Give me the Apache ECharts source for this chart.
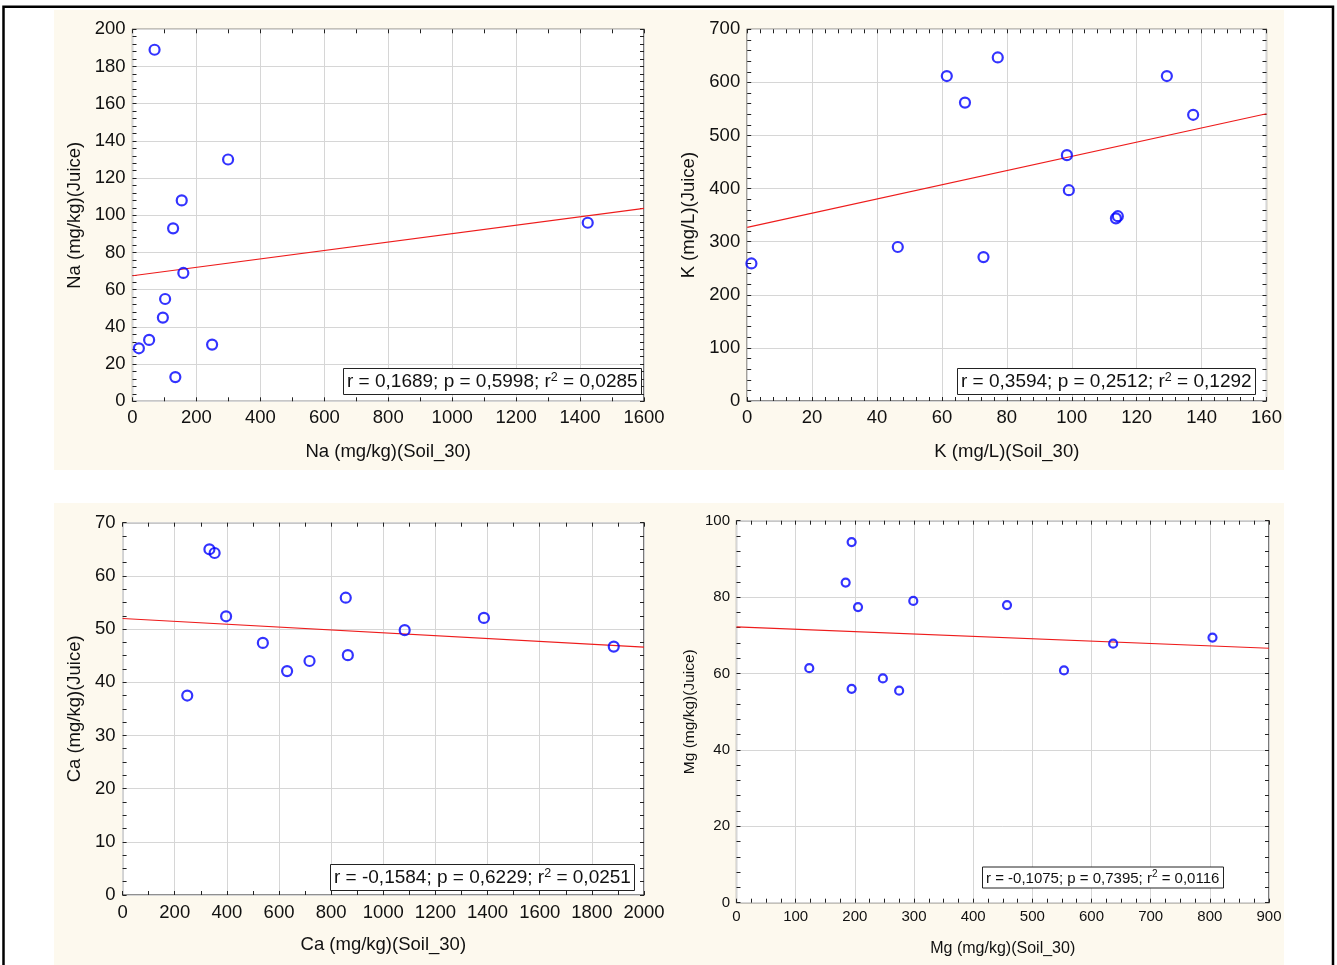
<!DOCTYPE html>
<html>
<head>
<meta charset="utf-8">
<title>Soil vs Juice correlations</title>
<script src="https://cdn.jsdelivr.net/npm/echarts@6/dist/echarts.min.js"></script>
<style>
  html, body { margin: 0; padding: 0; background: #fff; }
  #chart { width: 1337px; height: 965px; }
</style>
</head>
<body>
<div id="chart"></div>
<script>
// Sodium
const naSoil  = [69, 299, 154, 127, 159, 102, 95, 52, 20, 249, 134, 1424];
const naJuice = [189, 130, 108, 93, 69, 55, 45, 33, 28.5, 30.5, 13, 96];
const naFit   = [[0, 67.5], [1600, 103.7]];
const naStats = ['0,1689', '0,5998', '0,0285'];

// Potassium
const kSoil  = [1.3, 46.4, 61.5, 67.1, 77.2, 72.8, 98.5, 99.1, 113.6, 114.2, 129.3, 137.4];
const kJuice = [259, 290, 612, 562, 647, 271, 463, 397, 344, 348, 612, 539];
const kFit   = [[0, 327], [160, 541]];
const kStats = ['0,3594', '0,2512', '0,1292'];

// Calcium
const caSoil  = [333, 353, 397, 248, 538, 631, 717, 856, 864, 1082, 1386, 1884];
const caJuice = [65.0, 64.3, 52.4, 37.5, 47.4, 42.1, 44.0, 55.9, 45.1, 49.8, 52.1, 46.7];
const caFit   = [[0, 52.0], [2000, 46.6]];
const caStats = ['-0,1584', '0,6229', '0,0251'];

// Magnesium
const mgSoil  = [123, 184.5, 194.6, 205.4, 194.6, 247.4, 274.9, 298.8, 457.2, 553.5, 636.6, 804.5];
const mgJuice = [61.4, 83.8, 94.4, 77.4, 56.0, 58.7, 55.5, 79.0, 77.9, 60.8, 67.8, 69.4];
const mgFit   = [[0, 72.2], [900, 66.6]];
const mgStats = ['-0,1075', '0,7395', '0,0116'];

// Axis ranges: [min, max, interval, minor splits]
const naXRange = [0, 1600, 200, 2], naYRange = [0, 200, 20, 5];
const kXRange  = [0, 160, 20, 5],   kYRange  = [0, 700, 100, 5];
const caXRange = [0, 2000, 200, 2], caYRange = [0, 70, 10, 4];
const mgXRange = [0, 900, 100, 4],  mgYRange = [0, 100, 20, 5];

const FONT = '"Liberation Sans", Arial, sans-serif';
const FRAME = '#222';

const panels = [
  { xs: naSoil, ys: naJuice, fit: naFit, stats: naStats, xr: naXRange, yr: naYRange,
    xName: 'Na (mg/kg)(Soil_30)', yName: 'Na (mg/kg)(Juice)',
    grid: { left: 132.5, top: 29.3, width: 511.5, height: 372 },
    fs: 18.5, xNameFs: 18.5, yNameFs: 18.5, xGap: 41, yGap: 48, xMargin: 7, yMargin: 7,
    sym: 10, box: { left: 343, top: 368, fs: 19, lh: 22, sup: 12.5, pad: [3, 4, 3, 4] } },
  { xs: kSoil, ys: kJuice, fit: kFit, stats: kStats, xr: kXRange, yr: kYRange,
    xName: 'K (mg/L)(Soil_30)', yName: 'K (mg/L)(Juice)',
    grid: { left: 747.2, top: 29.3, width: 519.3, height: 371.7 },
    fs: 18.5, xNameFs: 18.5, yNameFs: 18.5, xGap: 41, yGap: 48.5, xMargin: 7, yMargin: 7,
    sym: 10, box: { left: 957, top: 368, fs: 19, lh: 22, sup: 12.5, pad: [3, 4, 3, 4] } },
  { xs: caSoil, ys: caJuice, fit: caFit, stats: caStats, xr: caXRange, yr: caYRange,
    xName: 'Ca (mg/kg)(Soil_30)', yName: 'Ca (mg/kg)(Juice)',
    grid: { left: 122.6, top: 522.7, width: 521.4, height: 372.3 },
    fs: 18.5, xNameFs: 18.5, yNameFs: 18.5, xGap: 40, yGap: 38.5, xMargin: 8, yMargin: 7,
    sym: 10, box: { left: 330, top: 864, fs: 19, lh: 22, sup: 12.5, pad: [3, 4, 3, 4] } },
  { xs: mgSoil, ys: mgJuice, fit: mgFit, stats: mgStats, xr: mgXRange, yr: mgYRange,
    xName: 'Mg (mg/kg)(Soil_30)', yName: 'Mg (mg/kg)(Juice)',
    grid: { left: 736.5, top: 520.7, width: 532.5, height: 382 },
    fs: 15, xNameFs: 16, yNameFs: 15.5, xGap: 38, yGap: 39, xMargin: 7, yMargin: 6.5,
    sym: 8, box: { left: 982, top: 867, fs: 15, lh: 18, sup: 10, pad: [2.5, 4, 2.5, 4] } }
];

const grids = [], xAxes = [], yAxes = [], series = [], titles = [];

function tickStyle(splits) {
  return {
    axisLine: { show: false, onZero: false },
    axisTick: { show: true, inside: true, length: 4, lineStyle: { color: FRAME, width: 1 } },
    minorTick: { show: true, splitNumber: splits, length: 4, lineStyle: { color: FRAME, width: 1 } }
  };
}

const plain = (v) => String(v);

panels.forEach((p, i) => {
  grids.push(Object.assign({ show: true, backgroundColor: '#fff', borderColor: FRAME, borderWidth: 1.2, containLabel: false }, p.grid));

  const labelStyle = (margin) => ({ show: true, margin: margin, fontSize: p.fs, color: '#111', fontFamily: FONT, formatter: plain });

  // bottom / left axes carry labels, names and grid lines
  xAxes.push(Object.assign({
    gridIndex: i, type: 'value', position: 'bottom',
    min: p.xr[0], max: p.xr[1], interval: p.xr[2],
    name: p.xName, nameLocation: 'middle', nameGap: p.xGap,
    nameTextStyle: { fontSize: p.xNameFs, color: '#111', fontFamily: FONT },
    axisLabel: labelStyle(p.xMargin),
    splitLine: { show: true, lineStyle: { color: '#d6d6d6', width: 1 } }
  }, tickStyle(p.xr[3])));
  yAxes.push(Object.assign({
    gridIndex: i, type: 'value', position: 'left',
    min: p.yr[0], max: p.yr[1], interval: p.yr[2],
    name: p.yName, nameLocation: 'middle', nameGap: p.yGap,
    nameTextStyle: { fontSize: p.yNameFs, color: '#111', fontFamily: FONT },
    axisLabel: labelStyle(p.yMargin),
    splitLine: { show: true, lineStyle: { color: '#d6d6d6', width: 1 } }
  }, tickStyle(p.yr[3])));

  // top / right axes only repeat the tick marks on the frame
  xAxes.push(Object.assign({
    gridIndex: i, type: 'value', position: 'top',
    min: p.xr[0], max: p.xr[1], interval: p.xr[2],
    axisLabel: { show: false }, splitLine: { show: false }
  }, tickStyle(p.xr[3])));
  yAxes.push(Object.assign({
    gridIndex: i, type: 'value', position: 'right',
    min: p.yr[0], max: p.yr[1], interval: p.yr[2],
    axisLabel: { show: false }, splitLine: { show: false }
  }, tickStyle(p.yr[3])));

  series.push({
    type: 'line', xAxisIndex: 2 * i, yAxisIndex: 2 * i,
    data: p.fit, symbol: 'none', silent: true, clip: true, z: 3,
    lineStyle: { color: '#ee1c1c', width: 1.1 }
  });
  series.push({
    type: 'scatter', xAxisIndex: 2 * i, yAxisIndex: 2 * i,
    data: p.xs.map((x, k) => [x, p.ys[k]]),
    symbol: 'circle', symbolSize: p.sym, z: 4,
    itemStyle: { color: 'rgba(0,0,0,0)', borderColor: '#0000ff', borderWidth: 2.2 }
  });

  const b = p.box;
  titles.push({
    left: b.left, top: b.top,
    text: '{t|r = ' + p.stats[0] + '; p = ' + p.stats[1] + '; r}{s|2}{t| = ' + p.stats[2] + '}',
    backgroundColor: '#fff', borderColor: FRAME, borderWidth: 1, padding: b.pad,
    textStyle: {
      fontFamily: FONT, fontWeight: 'normal', color: '#111',
      rich: {
        t: { fontSize: b.fs, lineHeight: b.lh, fontFamily: FONT, color: '#111' },
        s: { fontSize: b.sup, lineHeight: b.sup, verticalAlign: 'top', fontFamily: FONT, color: '#111' }
      }
    }
  });
});

const chart = echarts.init(document.getElementById('chart'), null, { renderer: 'canvas' });
chart.setOption({
  animation: false,
  backgroundColor: '#fff',
  textStyle: { fontFamily: FONT },
  graphic: [
    { type: 'rect', z: -10, silent: true, shape: { x: 54, y: 10, width: 1230, height: 460 }, style: { fill: '#fdf9ee' } },
    { type: 'rect', z: -10, silent: true, shape: { x: 54, y: 503, width: 1230, height: 470 }, style: { fill: '#fdf9ee' } },
    { type: 'rect', z: -9, silent: true, shape: { x: 3.5, y: 6.8, width: 1329.5, height: 1000 }, style: { fill: 'none', stroke: '#000', lineWidth: 2.5 } }
  ],
  title: titles,
  grid: grids,
  xAxis: xAxes,
  yAxis: yAxes,
  series: series
});
</script>
</body>
</html>
